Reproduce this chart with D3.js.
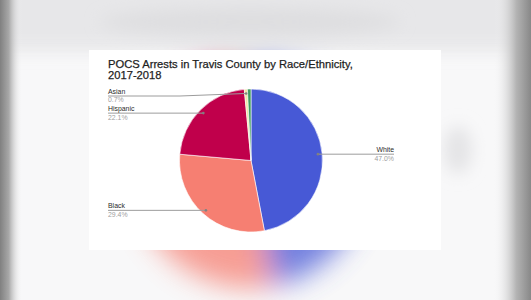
<!DOCTYPE html>
<html>
<head>
<meta charset="utf-8">
<script src="https://d3js.org/d3.v7.min.js"></script>
<style>
  body { margin: 0; background: #f4f4f5; }
  svg { display: block; }
</style>
</head>
<body>
<svg width="531" height="300"></svg>
<script>
// chart values
var categories = ["White", "Black", "Hispanic", "Asian", "Other"];
var shares = [47.0, 29.4, 22.1, 0.7, 0.8];
var pctLabels = ["47.0%", "29.4%", "22.1%", "0.7%", ""];
var colors = ["#4759d6", "#f67f72", "#c0004b", "#f1e6a6", "#3f9c5f"];
var titleLines = ["POCS Arrests in Travis County by Race/Ethnicity,", "2017-2018"];

var svg = d3.select("svg"),
    W = +svg.attr("width"),
    H = +svg.attr("height");

var data = categories.map(function(c, i) {
    return { name: c, value: shares[i], pct: pctLabels[i], color: colors[i] };
});

var pie = d3.pie().sort(null).value(function(d) { return d.value; });
var arcs = pie(data);

var defs = svg.append("defs");
var blur = defs.append("filter").attr("id", "blur")
    .attr("x", "-50%").attr("y", "-50%").attr("width", "200%").attr("height", "200%");
blur.append("feGaussianBlur").attr("stdDeviation", 14);
var soft = defs.append("filter").attr("id", "soft")
    .attr("x", "-50%").attr("y", "-50%").attr("width", "200%").attr("height", "200%");
soft.append("feGaussianBlur").attr("stdDeviation", 8);

var lg = defs.append("linearGradient").attr("id", "leftEdge");
lg.append("stop").attr("offset", "0%").attr("stop-color", "#808080");
lg.append("stop").attr("offset", "40%").attr("stop-color", "#a8a8a8");
lg.append("stop").attr("offset", "100%").attr("stop-color", "#f4f4f5").attr("stop-opacity", 0);
var rg = defs.append("linearGradient").attr("id", "rightEdge");
rg.append("stop").attr("offset", "0%").attr("stop-color", "#f4f4f5").attr("stop-opacity", 0);
rg.append("stop").attr("offset", "60%").attr("stop-color", "#b4b4b4");
rg.append("stop").attr("offset", "100%").attr("stop-color", "#888888");

// blurred background (the video frame behind the card)
svg.append("rect").attr("width", W).attr("height", H).attr("fill", "#f8f8f9");

var bgArc = d3.arc().innerRadius(0).outerRadius(118);
svg.append("g")
    .attr("transform", "translate(250,170)")
    .attr("filter", "url(#blur)")
    .attr("opacity", 0.75)
    .selectAll("path")
    .data(arcs)
    .enter().append("path")
    .attr("d", bgArc)
    .attr("fill", function(d) { return d.data.color; });

svg.append("rect").attr("x", -20).attr("y", -20).attr("width", W + 40).attr("height", 72)
    .attr("fill", "#e6e6e8").attr("opacity", 0.9)
    .attr("filter", "url(#soft)");
svg.append("ellipse").attr("cx", 250).attr("cy", 22).attr("rx", 150).attr("ry", 14)
    .attr("fill", "#dedee0").attr("filter", "url(#soft)");

svg.append("ellipse").attr("cx", 458).attr("cy", 150).attr("rx", 14).attr("ry", 24)
    .attr("fill", "#e4e4e6").attr("filter", "url(#soft)");
svg.append("rect").attr("x", 0).attr("width", 22).attr("height", H).attr("fill", "url(#leftEdge)");
svg.append("rect").attr("x", 494).attr("width", 37).attr("height", H).attr("fill", "url(#rightEdge)");

// the chart card
var card = { x: 89, y: 50, w: 352, h: 200 };
svg.append("rect")
    .attr("x", card.x).attr("y", card.y)
    .attr("width", card.w).attr("height", card.h)
    .attr("fill", "#ffffff");

var g = svg.append("g");

g.selectAll(".title")
    .data(titleLines)
    .enter().append("text")
    .attr("class", "title")
    .attr("x", 108)
    .attr("y", function(d, i) { return 68 + i * 11.3; })
    .style("font-family", "Liberation Sans, Arial, sans-serif")
    .style("font-size", "11.2px")
    .style("fill", "#1e1e1e")
    .style("stroke", "#1e1e1e")
    .style("stroke-width", 0.25)
    .text(function(d) { return d; });

var cx = 251, cy = 160.5, r = 71.5;
var arc = d3.arc().innerRadius(0).outerRadius(r);
var anchorArc = d3.arc().innerRadius(r * 0.94).outerRadius(r * 0.94);

var pieG = g.append("g").attr("transform", "translate(" + cx + "," + cy + ")");
pieG.selectAll("path.slice")
    .data(arcs)
    .enter().append("path")
    .attr("class", "slice")
    .attr("d", arc)
    .attr("fill", function(d) { return d.data.color; })
    .attr("stroke", "#fff")
    .attr("stroke-width", 0.6);

// leader lines and labels (only labelled slices)
var labelled = arcs.filter(function(d) { return d.data.pct !== ""; });
var leftX = 108, rightX = 394;

function labelY(d) {
    var p = anchorArc.centroid(d);
    var y = cy + p[1];
    if (d.data.name === "Asian") y = 96; // pushed down off the title
    return y;
}

labelled.forEach(function(d) {
    var p = anchorArc.centroid(d);
    var px = cx + p[0], py = cy + p[1];
    var mid = (d.startAngle + d.endAngle) / 2;
    var right = mid < Math.PI;
    var ly = labelY(d);
    var endX = right ? rightX : leftX;
    var bent = Math.abs(ly - py) > 1.5;
    var pts = bent ? [[px, py], [180, ly], [endX, ly]] : [[px, ly], [endX, ly]];
    g.append("path")
        .attr("d", d3.line()(pts))
        .attr("fill", "none")
        .attr("stroke", "#9c9c9c")
        .attr("stroke-width", 1);
    g.append("circle")
        .attr("cx", px).attr("cy", bent ? py : ly)
        .attr("r", 1.3)
        .attr("fill", "#808080");

    var anchor = right ? "end" : "start";
    g.append("text")
        .attr("x", endX).attr("y", ly - 2.4)
        .attr("text-anchor", anchor)
        .style("font-family", "Liberation Sans, Arial, sans-serif")
        .style("font-size", "6.9px")
        .style("fill", "#2a2a2a")
        .text(d.data.name);
    g.append("text")
        .attr("x", endX).attr("y", ly + 6.4)
        .attr("text-anchor", anchor)
        .style("font-family", "Liberation Sans, Arial, sans-serif")
        .style("font-size", "6.9px")
        .style("fill", "#a0a0a0")
        .text(d.data.pct);
});
</script>
</body>
</html>
